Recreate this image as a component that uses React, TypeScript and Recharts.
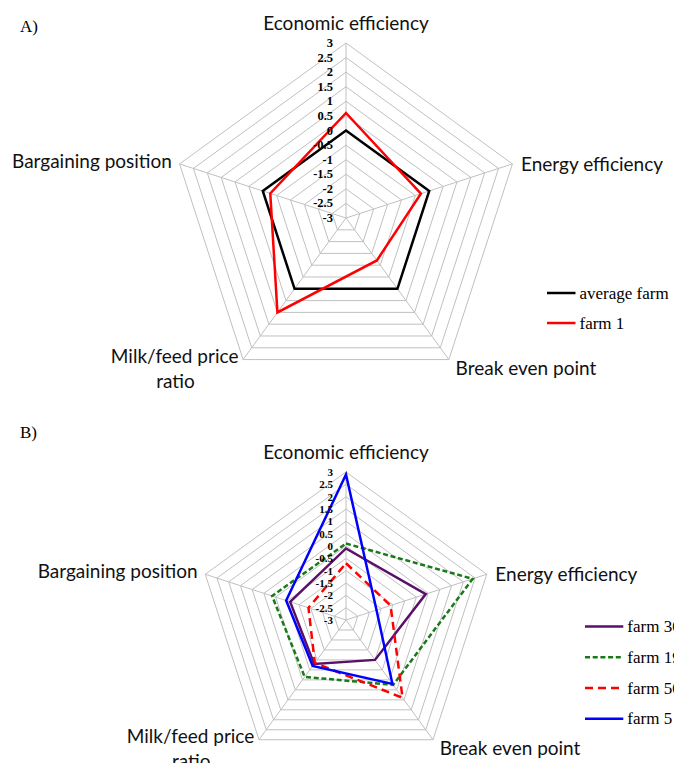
import React from "react";
import { RadarChart, Radar, PolarGrid, PolarAngleAxis, PolarRadiusAxis } from "recharts";

const axes = [
  "Economic efficiency",
  "Energy efficiency",
  "Break even point",
  "Milk/feed price ratio",
  "Bargaining position",
];
const radiusTicks = [-3, -2.5, -2, -1.5, -1, -0.5, 0, 0.5, 1, 1.5, 2, 2.5, 3];

// panel A
const averageFarm = [0, 0, 0, 0, 0];
const farm1 = [0.6, -0.3, -1.2, 1.0, -0.27];

// panel B
const farm30 = [-0.1, 0.4, -1.0, -0.8, -0.62];
const farm19 = [0.1, 2.4, 0.25, -0.15, 0.15];
const farm50 = [-0.7, -1.1, 0.9, -0.85, -1.4];
const farm5 = [2.9, -1.7, 0.2, -0.7, -0.45];

type Series = { key: string; name: string; values: number[]; color: string; dash?: string };

const seriesA: Series[] = [
  { key: "avg", name: "average farm", values: averageFarm, color: "#000000" },
  { key: "f1", name: "farm 1", values: farm1, color: "#ff0000" },
];

const seriesB: Series[] = [
  { key: "f30", name: "farm 30", values: farm30, color: "#5a1068" },
  { key: "f19", name: "farm 19", values: farm19, color: "#1a7a1a", dash: "5 2.7" },
  { key: "f50", name: "farm 50", values: farm50, color: "#ff0000", dash: "8 5" },
  { key: "f5", name: "farm 5", values: farm5, color: "#0000ff" },
];

function buildRows(series: Series[]) {
  return axes.map((axis, i) => {
    const row: Record<string, string | number> = { axis };
    series.forEach((s) => {
      row[s.key] = s.values[i];
    });
    return row;
  });
}

const sansFont = "Lato, 'Open Sans', sans-serif";
const serifFont = "'Liberation Serif', 'Times New Roman', serif";

// small nudges for the category labels, same order as axes
const labelNudge = [
  { dx: 0, dy: -13, anchor: "middle" },
  { dx: 1, dy: 2, anchor: "start" },
  { dx: 2, dy: 1, anchor: "start" },
  { dx: 0, dy: -11, anchor: "end" },
  { dx: 0, dy: -1, anchor: "end" },
];

function AngleTick(props: any) {
  const { x, y, payload } = props;
  const idx = axes.indexOf(payload.value);
  const n = labelNudge[idx] || { dx: 0, dy: 0, anchor: "middle" };
  const text: string = payload.value;
  const tx = x + n.dx;
  const ty = y + n.dy;
  if (text.length > 20) {
    const cut = text.lastIndexOf(" ");
    return (
      <g>
        <text x={tx} y={ty} textAnchor={n.anchor} dominantBaseline="central" fontFamily={sansFont} fontSize={19} fill="#111">
          {text.slice(0, cut)}
        </text>
        <text x={tx - 63} y={ty + 25} textAnchor="middle" dominantBaseline="central" fontFamily={sansFont} fontSize={19} fill="#111">
          {text.slice(cut + 1)}
        </text>
      </g>
    );
  }
  return (
    <text x={tx} y={ty} textAnchor={n.anchor} dominantBaseline="central" fontFamily={sansFont} fontSize={19} fill="#111">
      {text}
    </text>
  );
}

function makeRadiusTick(fontSize: number) {
  return (props: any) => {
    const { x, y, payload } = props;
    return (
      <text x={x - 13} y={y} textAnchor="end" dominantBaseline="central" fontFamily={serifFont} fontWeight="bold" fontSize={fontSize} fill="#000">
        {String(payload.value)}
      </text>
    );
  };
}

type PanelProps = {
  title: string;
  series: Series[];
  top: number;
  height: number;
  cy: number;
  radius: number;
  tickFont: number;
  legendLeft: number;
  legendTop: number;
  legendGap: number;
  legendLine: number;
  titleY: number;
};

function Panel(p: PanelProps) {
  const rows = buildRows(p.series);
  const legendH = p.legendGap * p.series.length + 10;
  return (
    <div style={{ position: "absolute", left: 0, top: p.top, width: 674, height: p.height }}>
      <div style={{ position: "absolute", left: 20, top: p.titleY - 11, fontFamily: serifFont, fontSize: 17, lineHeight: "22px" }}>
        {p.title}
      </div>
      <RadarChart
        width={674}
        height={p.height}
        cx={346}
        cy={p.cy}
        outerRadius={p.radius}
        data={rows}
        margin={{ top: 0, right: 0, bottom: 0, left: 0 }}
        style={{ position: "absolute", left: 0, top: 0 }}
      >
        <PolarGrid gridType="polygon" stroke="#c0c0c0" strokeWidth={1} />
        <PolarAngleAxis dataKey="axis" tick={AngleTick} tickLine={false} axisLine={false} />
        {p.series.map((s) => (
          <Radar
            key={s.key}
            name={s.name}
            dataKey={s.key}
            stroke={s.color}
            strokeWidth={2.5}
            strokeDasharray={s.dash}
            fill="none"
            fillOpacity={0}
            dot={false}
            isAnimationActive={false}
          />
        ))}
        <PolarRadiusAxis
          angle={90}
          domain={[-3, 3]}
          ticks={radiusTicks}
          tickCount={13}
          axisLine={false}
          tick={makeRadiusTick(p.tickFont)}
        />
      </RadarChart>
      <svg
        width={140}
        height={legendH}
        style={{ position: "absolute", left: p.legendLeft, top: p.legendTop - p.legendGap / 2 }}
      >
        {p.series.map((s, i) => {
          const y = p.legendGap / 2 + i * p.legendGap;
          return (
            <g key={s.key}>
              <line x1={0} y1={y} x2={p.legendLine} y2={y} stroke={s.color} strokeWidth={2.5} strokeDasharray={s.dash} />
              <text x={p.legendLine + 4} y={y} dominantBaseline="central" fontFamily={serifFont} fontSize={17} fill="#000">
                {s.name}
              </text>
            </g>
          );
        })}
      </svg>
    </div>
  );
}

export default function App() {
  return (
    <div style={{ position: "fixed", left: 0, top: 0, width: 674, height: 763, overflow: "hidden", background: "#fff" }}>
      <Panel
        title="A)"
        series={seriesA}
        top={0}
        height={398}
        cy={218}
        radius={175}
        tickFont={12.5}
        legendLeft={547}
        legendTop={292.7}
        legendGap={30}
        legendLine={28.5}
        titleY={27}
      />
      <Panel
        title="B)"
        series={seriesB}
        top={390}
        height={373}
        cy={230}
        radius={148}
        tickFont={11}
        legendLeft={585}
        legendTop={236.7}
        legendGap={30.8}
        legendLine={38.3}
        titleY={43}
      />
    </div>
  );
}
